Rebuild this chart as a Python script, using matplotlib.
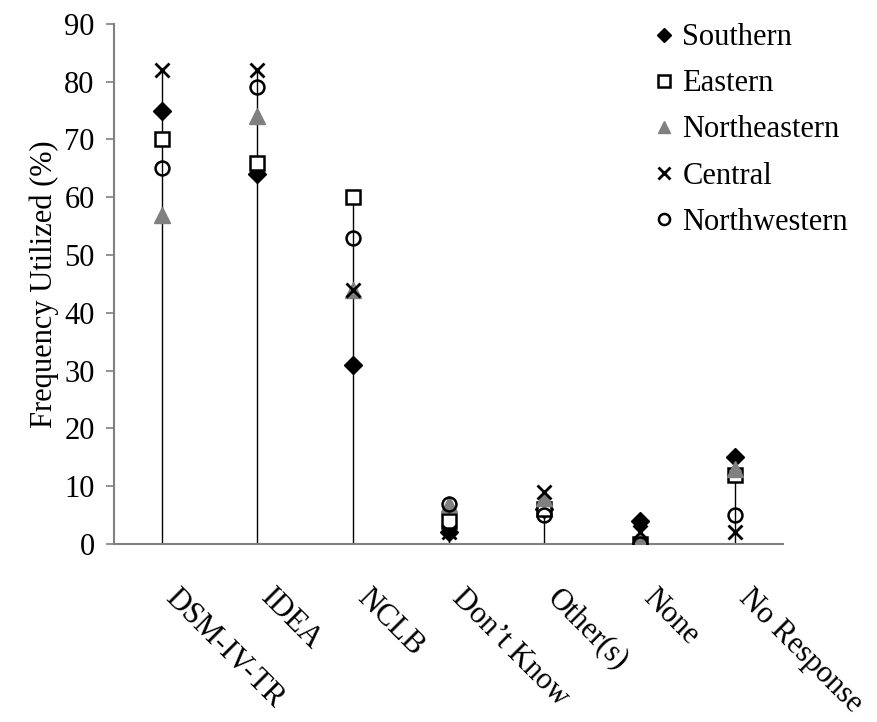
import numpy as np
import matplotlib.pyplot as plt
import matplotlib.transforms as mtransforms

plt.rcParams['font.family'] = ['Liberation Serif', 'DejaVu Serif']

categories = ["DSM-IV-TR", "IDEA", "NCLB", "Don\u2019t Know", "Other(s)", "None", "No Response"]
southern = [75, 64, 31, 2, 6, 4, 15]
eastern = [70, 66, 60, 4, 6, 0, 12]
northeastern = [57, 74, 44, 7, 8, 1, 13]
central = [82, 82, 44, 2, 9, 2, 2]
northwestern = [65, 79, 53, 7, 5, 0, 5]

fig = plt.figure(figsize=(8.77, 7.22), dpi=100)
ax = fig.add_axes([0.130, 0.2465, 0.763, 0.7205])

x = np.arange(len(categories))
top = np.max([southern, eastern, northeastern, central, northwestern], axis=0)
ax.vlines(x, 0, top, color='black', lw=1, zorder=1)

ax.plot(x, southern, ls='none', marker='D', ms=9, color='black', label='Southern', zorder=3)
ax.plot(x, eastern, ls='none', marker='s', ms=10, mfc='white', mec='black', mew=1.8,
        label='Eastern', zorder=3)
ax.plot(x, northeastern, ls='none', marker='^', ms=11, color='#808080', label='Northeastern', zorder=3)
ax.plot(x, central, ls='none', marker='x', ms=10, mew=2, color='black', label='Central', zorder=3)
ax.plot(x, northwestern, ls='none', marker='o', ms=10, mfc='none', mec='black', mew=1.8,
        label='Northwestern', zorder=3)

ax.set_xlim(-0.5, len(categories) - 0.5)
ax.set_ylim(0, 90)
ax.set_yticks(range(0, 91, 10))
ax.set_ylabel('Frequency Utilized (%)', fontsize=22, labelpad=4)
ax.tick_params(axis='y', labelsize=22, color='#808080', direction='out', length=6, width=1.2, pad=8)
ax.set_xticks(x)
ax.set_xticklabels(categories, rotation=-45, ha='left', va='center', rotation_mode='anchor', fontsize=22)
ax.tick_params(axis='x', length=0, pad=36)
offset = mtransforms.ScaledTranslation(8 / 100, 0, fig.dpi_scale_trans)
for lab in ax.get_xticklabels():
    lab.set_transform(lab.get_transform() + offset)

for s in ['top', 'right']:
    ax.spines[s].set_visible(False)
for s in ['left', 'bottom']:
    ax.spines[s].set_color('#808080')
    ax.spines[s].set_linewidth(1.5)

leg = ax.legend(loc='upper right', bbox_to_anchor=(1.138, 1.054), frameon=False, fontsize=22,
                handletextpad=0.0, handlelength=1.2, labelspacing=0.56, markerscale=0.8)

fig.savefig('out.png')
